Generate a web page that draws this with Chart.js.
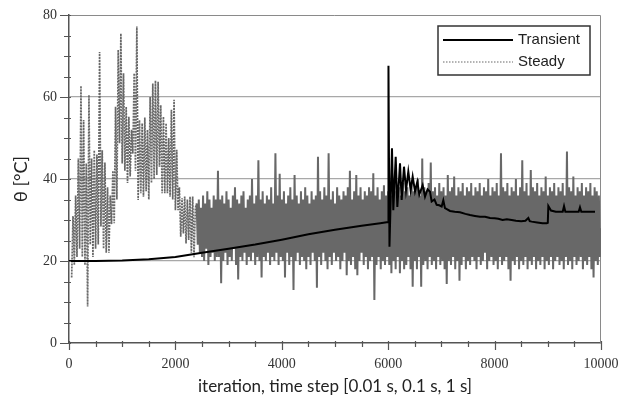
<!DOCTYPE html>
<html><head><meta charset="utf-8">
<script src="https://cdn.jsdelivr.net/npm/chart.js@4"></script>
<style>html,body{margin:0;padding:0;background:#fff}#wrap{width:623px;height:405px}</style>
</head><body><div id="wrap"><canvas id="c" width="623" height="405"></canvas></div>
<script>
// ---- axis tick labels ----
const xTickLabels = [0, 2000, 4000, 6000, 8000, 10000];
const yTickLabels = [0, 20, 40, 60, 80];

// ---- Transient series (iteration, temperature) ----
const transientX = [0,500,1000,1500,2000,2500,3000,3500,4000,4500,5000,5500,5850,6000,6005,6024,6071,6096,6141,6172,6222,6253,6297,6335,6378,6422,6460,6504,6547,6585,6648,6692,6740,6786,6817,6870,6911,6960,7005,7036,7067,7110,7162,7250,7350,7450,7538,7630,7726,7820,7914,8000,8070,8150,8230,8321,8400,8500,8580,8634,8660,8697,8800,8900,8979,9000,9010,9060,9150,9280,9305,9330,9580,9605,9630,9887];
const transientY = [20,20,20.1,20.4,21,22,23,24,25.2,26.5,27.6,28.6,29.2,29.5,67.6,23.5,47.5,32.4,45.4,33.2,43.8,34.9,43,37.3,41.8,37.3,40.6,37,39.3,36.2,38.5,35.7,37.5,36.9,34.5,35,33.7,33.6,33.3,34.8,32.9,32.6,32.2,32,31.9,31.5,31.2,31,30.8,30.8,30.5,30.4,30.3,30,30.2,30,29.8,29.7,29.8,30.5,29.7,29.6,29.4,29.2,29.2,29.3,33.4,32.3,32,32,33.4,32,32,33.1,32,32];

// ---- Steady series, early part: samples every 25 iterations from iteration 50 ----
const steadyEarlyStart = 50, steadyEarlyStep = 25;
const steadyEarly = [16,31,19,36,21,45,23,62.7,21,54.4,19,43.8,8.9,60.5,24,45,21,47,23,46,24,71,28.4,47,23,44,22,38,22,36,29,42,29.2,57.6,35,71.5,48.7,75.5,43.8,65.8,42,57.6,39,55.2,40.6,52,46.2,65.8,42,77.2,34.9,54.4,36.5,53.6,35.7,55,37,52,35,60,39,63.3,40,64,41,63.7,43,58,36.5,55.2,36.5,53.6,36.5,50,35.7,56.9,35,59.3,32.4,47.1,32.4,38,25.9,35.3,26.7,35.7,24.3,35,25.1,35.7,22,35.7,20.9,33];

// ---- Steady series, dense part: samples every 20 iterations from iteration 2400 ----
const steadyBandStart = 2400, steadyBandStep = 20;
const steadyBand = [
34,24,35,22,33,21,36,20,34,23,37,19,35,21,33,22,36,20,35,21,
42,21,35,14.6,36,20,34,22,37,19,35,21,33,20,36,23,38,19,35,15.5,
34,21,36,20,37,22,33,19,35,21,36,20,40,22,34,19,36,21,44.6,20,
35,16,37,21,34,20,36,22,35,19,38,21,34,20,46.3,22,36,19,41.3,21,
35,20,37,16,34,22,36,19,38,21,35,12.9,41,20,36,22,34,19,37,21,
35,20,38,18,36,21,34,19,37,22,35,20,36,13.5,45.4,21,37,19,35,22,
38,20,36,18,46.3,21,35,19,37,22,34,20,38,21,36,18,35,20,37,22,
36,16.5,38,20,42,19,35,21,37,18,41,16.5,36,20,38,22,35,19,37,21,
36,18,38,20,37,21,41.4,10.5,36,19,38,21,35,18,37,20,38.5,19,36,21,
37,19,38,17,36,20,39,18,37,21,38,17,36,20,39,18,37,19,38,21,
36,18,39,13.7,37,20,38,18,40,21,36,13.7,45,19,38,20,37,18,39,21,
44,19,37,20,38,18,36,21,39,19,37,20,38,18,36,14.4,41,20,37,19,
38,21,40.6,18,36,20,38,15.2,37,19,39,21,36,18,38,20,37,19,39,21,
36,20,38,18,37,21,39,19,36,20,38,22,37,18,40,20,36,21,38,19,
37,20,39,18,36,21,46.3,19,38,20,37,21,39,18,36,15.2,38,20,37,19,
40,21,36,18,38,20,44.6,19,37,21,39,18,36,20,42.2,19,38,21,37,18,
39,20,36,19,38,21,37,18,40.6,20,36,19,38,21,37,18,39,20,36,21,
38,19,37,20,39,18,36,21,46.7,19,38,20,37,18,40.6,21,36,19,38,20,
37,21,39,18,36,20,38,19,37,21,39,18,36,16,38,20,37,19,36,21,
28];

const steadyPts = [];
steadyEarly.forEach((v, i) => steadyPts.push({x: steadyEarlyStart + i * steadyEarlyStep, y: v}));
steadyBand.forEach((v, i) => steadyPts.push({x: steadyBandStart + i * steadyBandStep, y: v}));
const transientPts = transientX.map((x, i) => ({x, y: transientY[i]}));

const tickMarks = {
  id: 'tickMarks',
  beforeDatasetsDraw(chart) {
    const {ctx, chartArea: a} = chart;
    ctx.save();
    ctx.strokeStyle = '#8a8a8a';
    ctx.lineWidth = 1;
    ctx.beginPath();
    ctx.moveTo(a.left, a.top + 0.5); ctx.lineTo(a.right - 0.5, a.top + 0.5); ctx.lineTo(a.right - 0.5, a.bottom);
    ctx.stroke();
    ctx.restore();
  },
  afterDraw(chart) {
    const {ctx, chartArea: a, scales: {x, y}} = chart;
    ctx.save();
    ctx.strokeStyle = '#555';
    ctx.lineWidth = 1.2;
    ctx.beginPath();
    x.ticks.forEach(t => {
      const px = Math.round(x.getPixelForValue(t.value)) + 0.5;
      const major = xTickLabels.includes(t.value);
      ctx.moveTo(px, a.bottom - 2);
      ctx.lineTo(px, a.bottom + (major ? 7 : 4));
    });
    y.ticks.forEach(t => {
      const py = Math.round(y.getPixelForValue(t.value)) + 0.5;
      const major = yTickLabels.includes(t.value);
      ctx.moveTo(a.left + 2, py);
      ctx.lineTo(a.left - (major ? 9 : 5), py);
    });
    ctx.stroke();
    // legend box
    const bx = 438, by = 26, bw = 152, bh = 49;
    ctx.fillStyle = '#fff';
    ctx.fillRect(bx, by, bw, bh);
    ctx.strokeStyle = '#333';
    ctx.lineWidth = 1.5;
    ctx.strokeRect(bx, by, bw, bh);
    const ds = chart.data.datasets;
    const rows = [40, 62];
    ctx.font = '15px "Liberation Sans", Arial, sans-serif';
    ctx.textBaseline = 'middle';
    ds.forEach((d, i) => {
      ctx.beginPath();
      ctx.strokeStyle = d.borderColor;
      ctx.lineWidth = i === 0 ? 2 : 1.2;
      ctx.setLineDash(i === 0 ? [] : [1.5, 1.5]);
      ctx.moveTo(443, rows[i]);
      ctx.lineTo(513, rows[i]);
      ctx.stroke();
      ctx.setLineDash([]);
      ctx.fillStyle = '#222';
      ctx.fillText(d.label, 518, rows[i]);
    });
    ctx.restore();
  }
};

new Chart(document.getElementById('c'), {
  type: 'line',
  data: {
    datasets: [
      {label: 'Transient', data: transientPts, borderColor: '#000', borderWidth: 2, pointRadius: 0, tension: 0},
      {label: 'Steady', data: steadyPts, borderColor: '#686868', borderWidth: 1.7, borderDash: [2, 1], pointRadius: 0, tension: 0,
        segment: {
          borderDash: c => c.p0.parsed.x >= steadyBandStart ? [] : [2, 1],
          borderWidth: c => c.p0.parsed.x >= steadyBandStart ? 2 : 1.7
        }}
    ]
  },
  options: {
    responsive: false,
    animation: false,
    events: [],
    layout: {padding: {left: 0, right: 22, top: 15, bottom: 0}},
    plugins: {legend: {display: false}, tooltip: {enabled: false}},
    scales: {
      x: {
        type: 'linear', min: 0, max: 10000,
        afterFit: s => { s.height = 62; s.paddingLeft = 0; s.paddingRight = 0; },
        ticks: {
          stepSize: 500, autoSkip: false, maxRotation: 0, padding: 13,
          color: '#333', font: {family: '"Liberation Serif", serif', size: 14},
          callback: v => xTickLabels.includes(v) ? String(v) : ''
        },
        grid: {display: true, drawOnChartArea: false, drawTicks: false},
        border: {display: true, color: '#555', width: 1.5},
        title: {display: true, text: 'iteration, time step [0.01 s, 0.1 s, 1 s]', color: '#222',
          font: {family: 'Lato, "Open Sans", sans-serif', size: 17}, padding: {top: 0, bottom: 8}}
      },
      y: {
        type: 'linear', min: 0, max: 80,
        afterFit: s => { s.width = 69; s.paddingTop = 0; s.paddingBottom = 0; },
        ticks: {
          stepSize: 5, autoSkip: false, padding: 12,
          color: '#333', font: {family: '"Liberation Serif", serif', size: 14},
          callback: v => yTickLabels.includes(v) ? String(v) : ''
        },
        grid: {
          drawTicks: false, lineWidth: 1.2,
          color: c => (c.tick && [20, 40, 60].includes(c.tick.value)) ? '#a8a8a8' : 'rgba(0,0,0,0)'
        },
        border: {display: true, color: '#555', width: 1.5},
        title: {display: true, text: 'θ [°C]', color: '#222',
          font: {family: 'Lato, "Open Sans", sans-serif', size: 18}, padding: {top: 10, bottom: 0}}
      }
    }
  },
  plugins: [tickMarks]
});
</script>
</body></html>
